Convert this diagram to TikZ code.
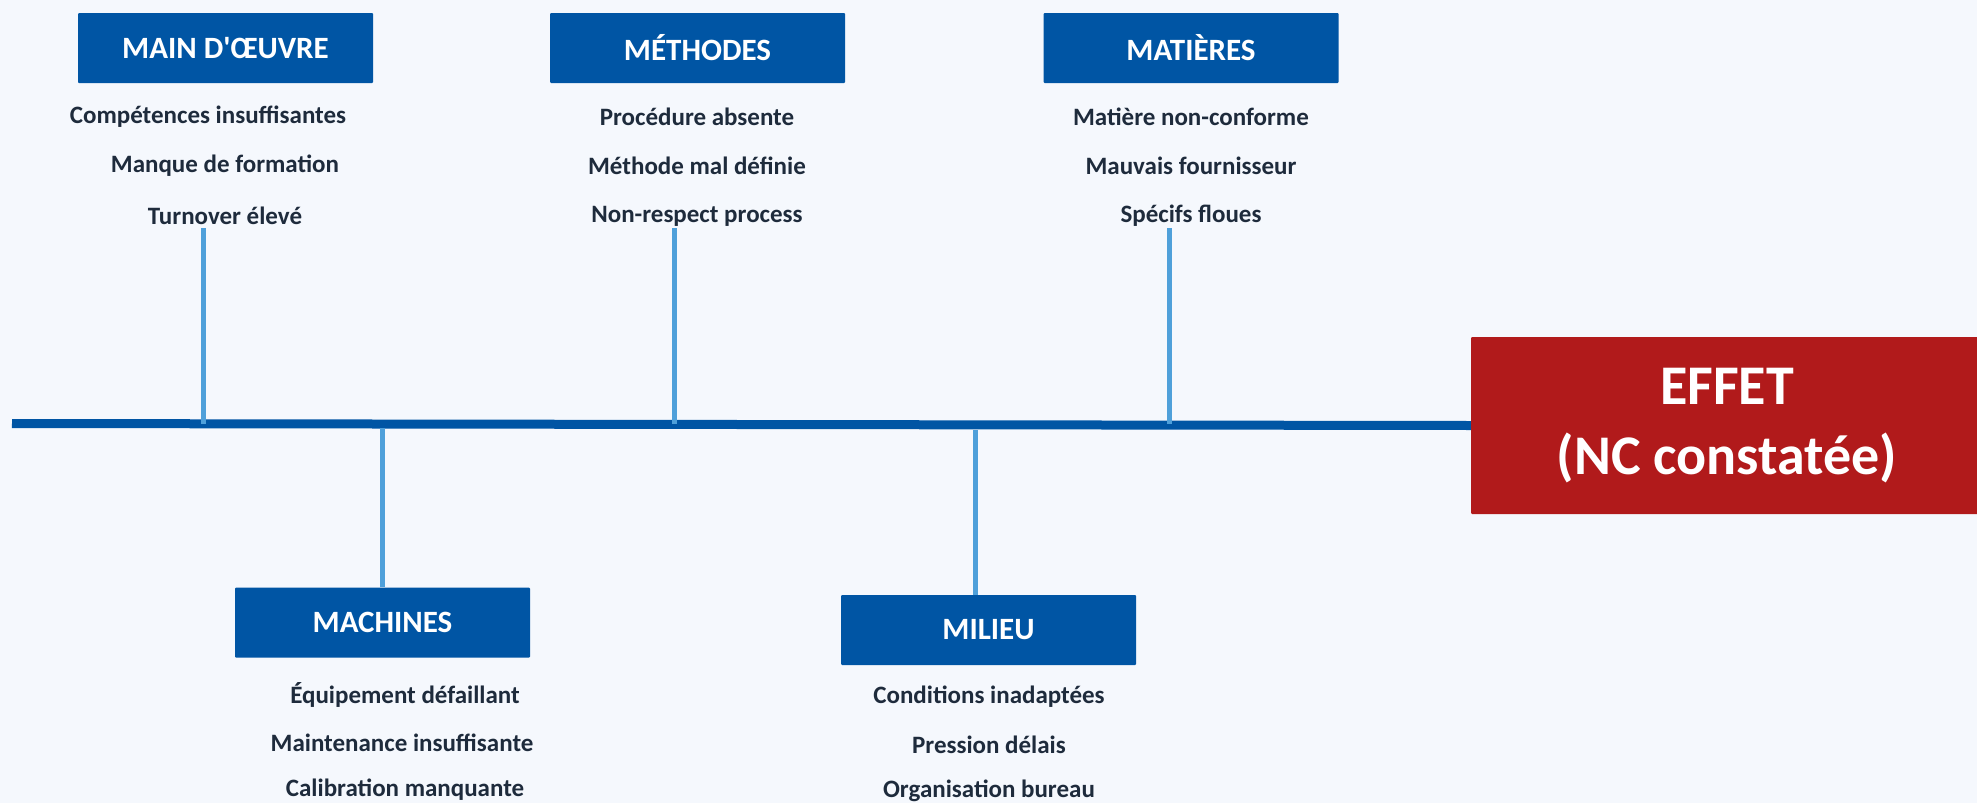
\documentclass[tikz,border=0pt]{standalone}
\usepackage{fontspec}
\setmainfont{Carlito}[Ligatures=TeXOff]
\definecolor{fondpage}{HTML}{F5F8FD}
\definecolor{bleucat}{HTML}{0055A4}
\definecolor{bleuarete}{HTML}{4FA0DA}
\definecolor{rougeeffet}{HTML}{B11A1B}
\definecolor{textecause}{HTML}{1E2B3C}
\begin{document}
\begin{tikzpicture}[x=1pt,y=-1pt,
  categorie/.style={fill=bleucat, text=white, minimum width=295pt, minimum height=70pt,
    inner sep=0pt, rounded corners=1pt, font=\fontsize{31}{36}\selectfont\bfseries},
  cause/.style={text=textecause, inner sep=0pt, font=\fontsize{25}{30}\selectfont\bfseries},
  arete/.style={draw=bleuarete, line width=5pt},
  epine/.style={draw=bleucat, line width=9pt}]
%%% fond et cadre
\fill[fondpage] (0,0) rectangle (1977,803);
\useasboundingbox (0,0) rectangle (1977,803);
%%% effet
\node[fill=rougeeffet, text=white, minimum width=512pt, minimum height=177pt, inner sep=0pt,
  rounded corners=1pt, align=center, font=\fontsize{56}{70}\selectfont\bfseries] (effet)
  at (1727,425.5) {EFFET\\(NC constatée)};
%%% categories du haut
\node[categorie] (mainoeuvre) at (225.5,48) {MAIN D'ŒUVRE};
\node[categorie] (methodes) at (697.5,48) {MÉTHODES};
\node[categorie] (matieres) at (1191,48) {MATIÈRES};
%%% categories du bas
\node[categorie] (machines) at (382.5,622.5) {MACHINES};
\node[categorie] (milieu) at (988.5,630) {MILIEU};
%
\node[cause] (mo1) at (208,116.5) {Compétences insuffisantes};
\node[cause] (mo2) at (225,165.5) {Manque de formation};
\node[cause] (mo3) at (225,216) {Turnover élevé};
%
\node[cause] (me1) at (697,116.5) {Procédure absente};
\node[cause] (me2) at (697,165.5) {Méthode mal définie};
\node[cause] (me3) at (697,216) {Non-respect process};
%
\node[cause] (ma1) at (1191,116.5) {Matière non-conforme};
\node[cause] (ma2) at (1191,165.5) {Mauvais fournisseur};
\node[cause] (ma3) at (1191,216) {Spécifs floues};
%
\node[cause] (mc1) at (405,694.5) {Équipement défaillant};
\node[cause] (mc2) at (402,743) {Maintenance insuffisante};
\node[cause] (mc3) at (405,790) {Calibration manquante};
%
\node[cause] (mi1) at (989,696.5) {Conditions inadaptées};
\node[cause] (mi2) at (989,745) {Pression délais};
\node[cause] (mi3) at (989,791) {Organisation bureau};
%%% points des aretes
\coordinate (debut) at (12,423.5);
\coordinate (hmo) at (203,228);
\coordinate (bmo) at (203,423.5);
\coordinate (hme) at (674,228);
\coordinate (bme) at (674,423.5);
\coordinate (hma) at (1169,228);
\coordinate (bma) at (1169,423.5);
\coordinate (hmc) at (382.5,428);
\coordinate (hmi) at (975,430);
%%% epine centrale
\draw[epine] (debut) -- (effet.west);
%Aretes vers le haut
\draw[arete] (hmo) -- (bmo);
\draw[arete] (hme) -- (bme);
\draw[arete] (hma) -- (bma);
%Aretes vers le bas
\draw[arete] (hmc) -- (machines.north);
\draw[arete] (hmi) -- (hmi |- milieu.north);
\end{tikzpicture}
\end{document}
